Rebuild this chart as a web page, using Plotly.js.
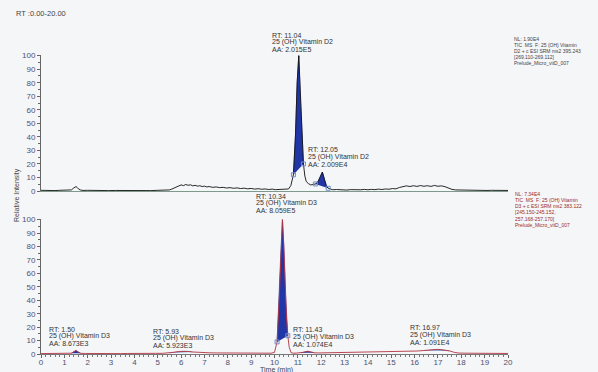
<!DOCTYPE html>
<html><head><meta charset="utf-8">
<script src="https://cdn.plot.ly/plotly-3.0.1.min.js"></script>
<style>html,body{margin:0;padding:0;background:#f5f6f8;}#c{width:598px;height:372px;}</style>
</head><body><div id="c"></div>
<script>
// ---- data: 25(OH) Vitamin D2 channel (top) ----
const d2Time = [0,0.2,0.4,0.6,0.8,1.0,1.2,1.3,1.4,1.45,1.5,1.55,1.6,1.7,1.8,2.0,2.3,2.6,2.9,3.2,3.5,3.8,4.1,4.4,4.7,5.0,5.3,5.5,5.6,5.7,5.8,5.9,6.0,6.1,6.2,6.3,6.4,6.5,6.6,6.7,6.8,6.9,7.0,7.1,7.2,7.35,7.5,7.65,7.8,7.95,8.1,8.25,8.4,8.55,8.7,8.85,9.0,9.15,9.3,9.45,9.6,9.75,9.9,10.05,10.2,10.35,10.5,10.6,10.7,10.81,10.9,10.97,11.04,11.1,11.18,11.24,11.3,11.36,11.45,11.55,11.65,11.75,11.85,11.95,12.05,12.15,12.22,12.3,12.4,12.5,12.65,12.8,12.95,13.1,13.25,13.4,13.55,13.7,13.85,14.0,14.15,14.3,14.45,14.6,14.75,14.9,15.05,15.2,15.35,15.5,15.65,15.8,15.95,16.1,16.25,16.4,16.55,16.7,16.85,17.0,17.15,17.3,17.45,17.6,17.75,17.9,18.1,18.3,18.5,18.7,18.9,19.1,19.3,19.5,19.7,19.9,20];
const d2Int = [0.5,0.3,0.5,0.3,0.5,0.4,0.5,0.8,2.2,3.0,3.3,2.6,1.6,0.7,0.4,0.5,0.3,0.5,0.3,0.4,0.3,0.5,0.3,0.4,0.3,0.5,0.4,0.8,1.4,2.3,3.2,3.9,4.5,4.0,4.8,4.2,4.6,3.8,4.2,3.6,3.9,3.3,3.6,3.0,3.3,2.7,3.0,2.5,2.7,2.2,2.5,2.0,2.3,1.8,2.1,1.6,1.9,1.4,1.7,1.3,1.5,1.1,1.4,1.0,1.2,0.9,1.1,1.5,4.0,12,42,80,100,72,38,20,11,7,5.5,4.5,4.8,5.2,6.5,10,14,8,4,2.0,1.2,0.9,1.1,0.8,1.0,0.7,1.0,0.8,1.1,0.9,1.2,0.9,1.2,1.0,1.4,1.1,1.5,1.3,1.8,1.6,2.6,3.2,3.8,3.3,3.9,3.4,4.0,3.5,3.9,3.4,4.1,3.5,3.8,3.2,2.2,1.2,0.8,0.7,0.6,0.5,0.6,0.4,0.5,0.4,0.5,0.4,0.5,0.4,0.4];
const d2PeakStart = [10.81, 11.75];
const d2PeakEnd   = [11.24, 12.3];
const d2LabelRT = ['11.04', '12.05'];
const d2LabelAA = ['2.015E5', '2.009E4'];

// ---- data: 25(OH) Vitamin D3 channel (bottom) ----
const d3Time = [0,0.2,0.4,0.6,0.8,1.0,1.2,1.3,1.4,1.5,1.6,1.7,1.9,2.2,2.5,2.8,3.1,3.4,3.7,4.0,4.3,4.6,4.9,5.2,5.5,5.7,5.9,6.1,6.3,6.5,6.7,6.9,7.2,7.5,7.8,8.1,8.4,8.7,9.0,9.3,9.6,9.85,10.0,10.11,10.2,10.27,10.34,10.4,10.47,10.52,10.57,10.63,10.71,10.8,10.95,11.14,11.25,11.35,11.43,11.55,11.71,11.9,12.2,12.5,12.8,13.1,13.4,13.7,14.0,14.3,14.6,14.9,15.2,15.5,15.8,16.1,16.4,16.6,16.8,16.97,17.1,17.3,17.5,17.7,17.9,18.2,18.5,18.8,19.1,19.4,19.7,20];
const d3Int = [0.3,0.4,0.3,0.4,0.3,0.4,0.4,0.6,1.6,2.6,1.4,0.5,0.4,0.3,0.4,0.3,0.4,0.3,0.4,0.3,0.4,0.4,0.5,0.5,0.8,1.3,1.9,2.1,1.9,1.5,1.2,1.1,0.9,0.8,0.8,0.7,0.7,0.6,0.6,0.5,0.5,0.6,1.2,9,40,75,100,80,45,25,13.6,5,1.0,0.6,0.7,0.9,1.3,1.8,2.0,1.5,0.9,0.8,0.9,0.8,0.9,1.0,0.9,1.0,1.1,1.2,1.3,1.4,1.5,1.6,1.9,2.2,2.6,3.0,3.3,3.4,3.3,3.0,2.3,1.2,0.7,0.6,0.5,0.5,0.4,0.4,0.4,0.4];
const d3PeakStart = [1.3, 5.5, 10.11, 11.14, 16.4];
const d3PeakEnd   = [1.7, 6.5, 10.57, 11.71, 17.5];
const d3PeakDark  = [true, false, true, true, false];
const d3LabelRT = ['1.50', '5.93', '10.34', '11.43', '16.97'];
const d3LabelAA = ['8.673E3', '5.923E3', '8.059E5', '1.074E4', '1.091E4'];

const d2Info = ['NL: 1.90E4', 'TIC  MS  F: 25 (OH) Vitamin', 'D2 + c ESI SRM ms2 395.243', '[269.110-269.112]', 'Prelude_Micro_vitD_007'];
const d3Info = ['NL: 7.34E4', 'TIC  MS  F: 25 (OH) Vitamin', 'D3 + c ESI SRM ms2 383.122', '[245.150-245.152,', '257.168-257.170]', 'Prelude_Micro_vitD_007'];
const xTicks = [0,1,2,3,4,5,6,7,8,9,10,11,12,13,14,15,16,17,18,19,20];
const yTicks = [0,10,20,30,40,50,60,70,80,90,100];

// ---- layout helpers (pixel -> paper) ----
const W = 598, H = 372, L = 41, R = 90;
const px = x => (x - L) / (W - L - R);
const py = y => 1 - y / H;
const TOP0 = 191, TOP100 = 55, BOT0 = 354, BOT100 = 219;

function seg(t, v, a, b) {
  const xs = [], ys = [];
  for (let i = 0; i < t.length; i++) if (t[i] >= a - 1e-9 && t[i] <= b + 1e-9) { xs.push(t[i]); ys.push(v[i]); }
  return {xs, ys};
}
function valAt(t, v, a) { return v[t.indexOf(a)]; }

const traces = [];
const darkBlue = '#2136a6', lightBlue = '#7592c9';
d2PeakStart.forEach((a, i) => {
  const s = seg(d2Time, d2Int, a, d2PeakEnd[i]);
  traces.push({x: s.xs, y: s.ys, xaxis: 'x', yaxis: 'y', mode: 'lines', fill: 'toself',
    fillcolor: darkBlue, line: {color: darkBlue, width: 0.6}, hoverinfo: 'skip'});
});
d3PeakStart.forEach((a, i) => {
  const s = seg(d3Time, d3Int, a, d3PeakEnd[i]);
  const c = d3PeakDark[i] ? darkBlue : lightBlue;
  traces.push({x: s.xs, y: s.ys, xaxis: 'x2', yaxis: 'y2', mode: 'lines', fill: 'toself',
    fillcolor: c, line: {color: c, width: 0.6}, hoverinfo: 'skip'});
});
traces.push({x: d2Time, y: d2Int, xaxis: 'x', yaxis: 'y', mode: 'lines', line: {color: '#111111', width: 0.9}});
traces.push({x: d3Time, y: d3Int, xaxis: 'x2', yaxis: 'y2', mode: 'lines', line: {color: '#b3323f', width: 0.9}});
// integration boundary markers
const d2B = d2PeakStart.concat(d2PeakEnd);
traces.push({x: d2B, y: d2B.map(a => valAt(d2Time, d2Int, a)), xaxis: 'x', yaxis: 'y', mode: 'markers',
  marker: {symbol: 'square-open', size: 4, color: '#6f8fc2', line: {width: 1}}});
const d3B = [d3PeakStart[2], d3PeakEnd[2]];
traces.push({x: d3B, y: d3B.map(a => valAt(d3Time, d3Int, a)), xaxis: 'x2', yaxis: 'y2', mode: 'markers',
  marker: {symbol: 'square-open', size: 4, color: '#6f8fc2', line: {width: 1}}});

const font = 'Arial, "Liberation Sans", sans-serif';
const ann = [];
function label(x, y, lines, color, size, spacing) {
  lines.forEach((t, i) => ann.push({xref: 'paper', yref: 'paper', x, y, text: t, showarrow: false, xanchor: 'left', yanchor: 'middle',
    yshift: -spacing * i, borderpad: 0, font: {family: font, size, color}}));
}
// convert data position -> paper (so labels above the 100% line stay visible)
const dx = t => px(L + t * (W - L - R) / 20);
const dyTop = v => py(TOP0 - v * (TOP0 - TOP100) / 100);
const dyBot = v => py(BOT0 - v * (BOT0 - BOT100) / 100);
// peak labels: top-line positions of each label block (time, intensity)
const d2LabelPos = [[9.83, 114.7], [11.41, 30.7]];
const d3LabelPos = [[0.30, 18.5], [4.74, 17.0], [9.15, 117], [10.77, 17.8], [15.77, 19.3]];
d2LabelRT.forEach((rt, i) => label(dx(d2LabelPos[i][0]), dyTop(d2LabelPos[i][1]),
  ['RT: ' + rt, '25 (OH) Vitamin D2', 'AA: ' + d2LabelAA[i]], '#333333', 7, 7.4));
d3LabelRT.forEach((rt, i) => label(dx(d3LabelPos[i][0]), dyBot(d3LabelPos[i][1]),
  ['RT: ' + rt, '25 (OH) Vitamin D3', 'AA: ' + d3LabelAA[i]], '#333333', 7, 7.3));
label(px(513), py(39), d2Info, '#444444', 5, 6);
label(px(514), py(194.3), d3Info, '#9a2a2a', 5, 6.05);
ann.push({xref: 'paper', yref: 'paper', x: px(14), y: py(14), text: 'RT :0.00-20.00', showarrow: false,
  xanchor: 'left', yanchor: 'middle', font: {family: font, size: 7.5, color: '#444444'}});
ann.push({xref: 'paper', yref: 'paper', x: px(17), y: py(195), text: 'Relative Intensity', textangle: -90, showarrow: false,
  xanchor: 'center', yanchor: 'middle', font: {family: font, size: 7, color: '#444444'}});
ann.push({xref: 'paper', yref: 'paper', x: px(276), y: py(369.5), text: 'Time (min)', showarrow: false,
  xanchor: 'center', yanchor: 'middle', borderpad: 0, font: {family: font, size: 7, color: '#444444'}});

const tickFont = {family: font, size: 8, color: '#4d5170'};
const yax = dom => ({domain: dom, range: [0, 100.5], tickvals: yTicks, ticks: 'outside', ticklen: 3, tickcolor: '#666',
  showline: true, linecolor: '#666', linewidth: 1, showgrid: false, zeroline: false, tickfont: tickFont,
  minor: {dtick: 5, tick0: 0, ticks: 'outside', ticklen: 2, tickcolor: '#666'}});

const layout = {
  width: W, height: H, margin: {l: L, r: R, t: 0, b: 0},
  paper_bgcolor: '#f5f6f8', plot_bgcolor: '#f5f6f8', showlegend: false,
  xaxis: {anchor: 'y', range: [0, 20], showline: true, linecolor: '#7f9a8c', linewidth: 1, ticks: '', showticklabels: false,
    showgrid: false, zeroline: false},
  yaxis: yax([py(TOP0), py(TOP100)]),
  xaxis2: {anchor: 'y2', range: [0, 20], tickvals: xTicks, ticks: 'outside', ticklen: 3, tickcolor: '#666',
    showline: true, linecolor: '#777', linewidth: 1, showgrid: false, zeroline: false, tickfont: tickFont,
    ticklabelstandoff: -3,
    minor: {dtick: 0.2, tick0: 0, ticks: 'outside', ticklen: 2, tickcolor: '#777'}},
  yaxis2: yax([py(BOT0), py(BOT100)]),
  annotations: ann
};
Plotly.newPlot('c', traces, layout, {displayModeBar: false, staticPlot: true});
</script></body></html>
